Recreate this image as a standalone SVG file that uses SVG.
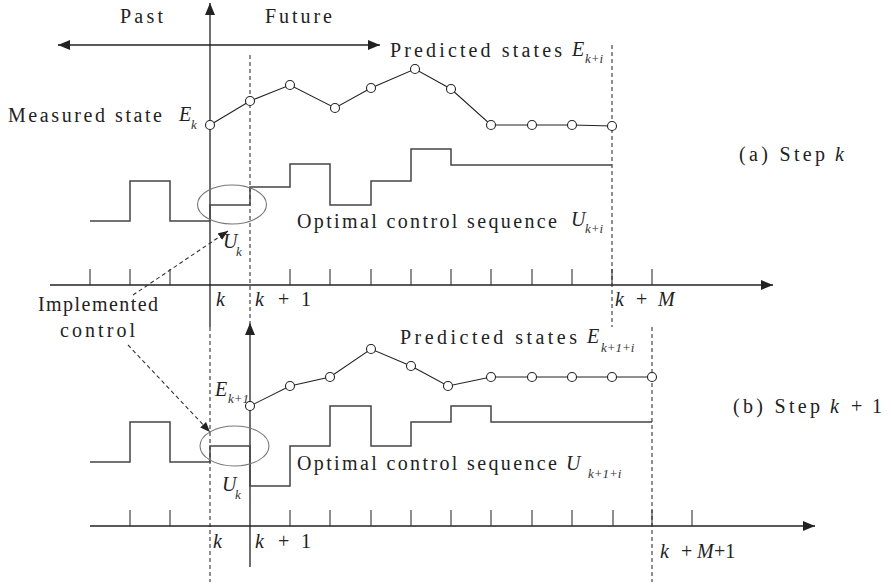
<svg xmlns="http://www.w3.org/2000/svg" width="891" height="585" viewBox="0 0 891 585">
<style>
.t{font-family:"Liberation Serif","Times New Roman",serif;font-size:20px;fill:#222}
.m{font-family:"Liberation Serif","Times New Roman",serif;font-style:italic;font-size:20px;fill:#222}
.s{font-family:"Liberation Serif","Times New Roman",serif;font-style:italic;font-size:13px;fill:#333}
.r{font-family:"Liberation Serif","Times New Roman",serif;font-size:20px;fill:#222}
.ax{stroke:#222;stroke-width:1.3;fill:none}
.tk{stroke:#333;stroke-width:1.1;fill:none}
.ds{stroke:#333;stroke-width:1.1;fill:none;stroke-dasharray:4 3}
.sig{stroke:#444;stroke-width:1.5;fill:none}
.st{stroke:#222;stroke-width:1.1;fill:none}
.pt{stroke:#222;stroke-width:1.1;fill:#fff}
.el{stroke:#777;stroke-width:1.1;fill:none}
</style>
<defs>
<marker id="ah" viewBox="0 0 12 10" refX="12" refY="5" markerWidth="12" markerHeight="10" markerUnits="userSpaceOnUse" orient="auto-start-reverse">
<path d="M0,0 L12,5 L0,10 z" fill="#222"/>
</marker>
<marker id="ah2" viewBox="0 0 10 8" refX="10" refY="4" markerWidth="10" markerHeight="8" markerUnits="userSpaceOnUse" orient="auto">
<path d="M0,0 L10,4 L0,8 z" fill="#222"/>
</marker>
</defs>
<rect width="891" height="585" fill="#fff"/>

<g id="axes">
<line class="ax" x1="210" y1="327" x2="210" y2="3" marker-end="url(#ah)"/>
<line class="ds" x1="210" y1="327" x2="210" y2="582"/>
<line class="ax" x1="58" y1="45" x2="380" y2="45" marker-start="url(#ah)" marker-end="url(#ah)"/>
<line class="ax" x1="50" y1="285" x2="773" y2="285" marker-end="url(#ah)"/>
<line class="ax" x1="250" y1="567" x2="250" y2="323" marker-end="url(#ah)"/>
<line class="ax" x1="90" y1="526" x2="815" y2="526" marker-end="url(#ah)"/>
<line class="ds" x1="250" y1="55" x2="250" y2="323"/>
<line class="ds" x1="612" y1="45" x2="612" y2="327"/>
<line class="ds" x1="652" y1="327" x2="652" y2="582"/>
</g>

<g id="ticks">
<path class="tk" d="M90,269V285M130,269V285M170,269V285M290,269V285M330,269V285M371,269V285M411,269V285M451,269V285M491,269V285M532,269V285M572,269V285M612,269V285M652,269V285"/>
<path class="tk" d="M130,510V526M170,510V526M290,510V526M330,510V526M371,510V526M411,510V526M451,510V526M491,510V526M532,510V526M572,510V526M613,510V526M652,510V526M692,510V526"/>
</g>

<g id="control-a">
<path class="sig" d="M90,221H130V181H170V221H210V205H250V187H290V164H330V205H371V181H411V149H451V165H612"/>
</g>
<g id="control-b">
<path class="sig" d="M90,462H130V422H170V462H210V446H250V486H290V446H330V406H371V446H411V422H451V406H491V422H652"/>
</g>

<g id="states-a">
<polyline class="st" points="210,125 250,101 290,85 335,108 371,88 415,69 451,89 491,125 532,125 572,125 612,126"/>
<g class="pt">
<circle cx="210" cy="125" r="4.5"/><circle cx="250" cy="101" r="4.5"/><circle cx="290" cy="85" r="4.5"/><circle cx="335" cy="108" r="4.5"/><circle cx="371" cy="88" r="4.5"/><circle cx="415" cy="69" r="4.5"/><circle cx="451" cy="89" r="4.5"/><circle cx="491" cy="125" r="4.5"/><circle cx="532" cy="125" r="4.5"/><circle cx="572" cy="125" r="4.5"/><circle cx="612" cy="126" r="4.5"/>
</g>
</g>
<g id="states-b">
<polyline class="st" points="250,406 290,386 330,377 371,349 411,366 448,386 491,377 532,377 572,377 612,377 652,377"/>
<g class="pt">
<circle cx="250" cy="406" r="4.5"/><circle cx="290" cy="386" r="4.5"/><circle cx="330" cy="377" r="4.5"/><circle cx="371" cy="349" r="4.5"/><circle cx="411" cy="366" r="4.5"/><circle cx="448" cy="386" r="4.5"/><circle cx="491" cy="377" r="4.5"/><circle cx="532" cy="377" r="4.5"/><circle cx="572" cy="377" r="4.5"/><circle cx="612" cy="377" r="4.5"/><circle cx="652" cy="377" r="4.5"/>
</g>
</g>

<g id="ellipse-a"><ellipse class="el" cx="232" cy="204.5" rx="34.5" ry="19.5"/></g>
<g id="ellipse-b"><ellipse class="el" cx="234.5" cy="446" rx="34.5" ry="20"/></g>

<g id="connectors">
<line class="ds" x1="133" y1="295" x2="228" y2="231" marker-end="url(#ah2)"/>
<line class="ds" x1="128" y1="345" x2="210" y2="432" marker-end="url(#ah2)"/>
</g>

<g id="labels">
<text class="t" x="120" y="23" textLength="43" lengthAdjust="spacing">Past</text>
<text class="t" x="265" y="23" textLength="67" lengthAdjust="spacing">Future</text>
<text class="t" x="8" y="122" textLength="154" lengthAdjust="spacing">Measured state</text>
<text class="m" x="179" y="121">E</text><text class="s" x="191" y="129">k</text>
<text class="t" x="390" y="57" textLength="172" lengthAdjust="spacing">Predicted states</text>
<text class="m" x="572" y="56">E</text><text class="s" x="585" y="63">k+i</text>
<text class="t" x="297" y="228" textLength="260" lengthAdjust="spacing">Optimal control sequence</text>
<text class="m" x="571" y="226">U</text><text class="s" x="585" y="233">k+i</text>
<text class="m" x="223" y="248">U</text><text class="s" x="236" y="256">k</text>
<text class="t" x="739" y="161" textLength="86" lengthAdjust="spacing">(a) Step</text>
<text class="m" x="835" y="161">k</text>
<text class="m" x="216" y="306">k</text>
<text class="m" x="255" y="306">k</text><text class="r" x="278" y="306">+</text><text class="r" x="301" y="306">1</text>
<text class="m" x="615" y="306">k</text><text class="r" x="636" y="306">+</text><text class="m" x="658" y="306">M</text>
<text class="t" x="38" y="311" textLength="120" lengthAdjust="spacing">Implemented</text>
<text class="t" x="60" y="337" textLength="75" lengthAdjust="spacing">control</text>
<text class="t" x="400" y="344" textLength="177" lengthAdjust="spacing">Predicted states</text>
<text class="m" x="587" y="343">E</text><text class="s" x="601" y="352">k+1+i</text>
<text class="m" x="215" y="396">E</text><text class="s" x="228" y="403">k+1</text>
<text class="t" x="297" y="470" textLength="260" lengthAdjust="spacing">Optimal control sequence</text>
<text class="m" x="566" y="470">U</text><text class="s" x="588" y="478">k+1+i</text>
<text class="m" x="222" y="491">U</text><text class="s" x="235" y="499">k</text>
<text class="t" x="733" y="413" textLength="87" lengthAdjust="spacing">(b) Step</text>
<text class="m" x="830" y="413">k</text><text class="r" x="851" y="413">+</text><text class="r" x="872" y="413">1</text>
<text class="m" x="213" y="548">k</text>
<text class="m" x="255" y="548">k</text><text class="r" x="278" y="548">+</text><text class="r" x="301" y="548">1</text>
<text class="m" x="660" y="558">k</text><text class="r" x="681" y="558">+</text><text class="m" x="697" y="558">M</text><text class="r" x="714" y="558">+1</text>
</g>
</svg>
